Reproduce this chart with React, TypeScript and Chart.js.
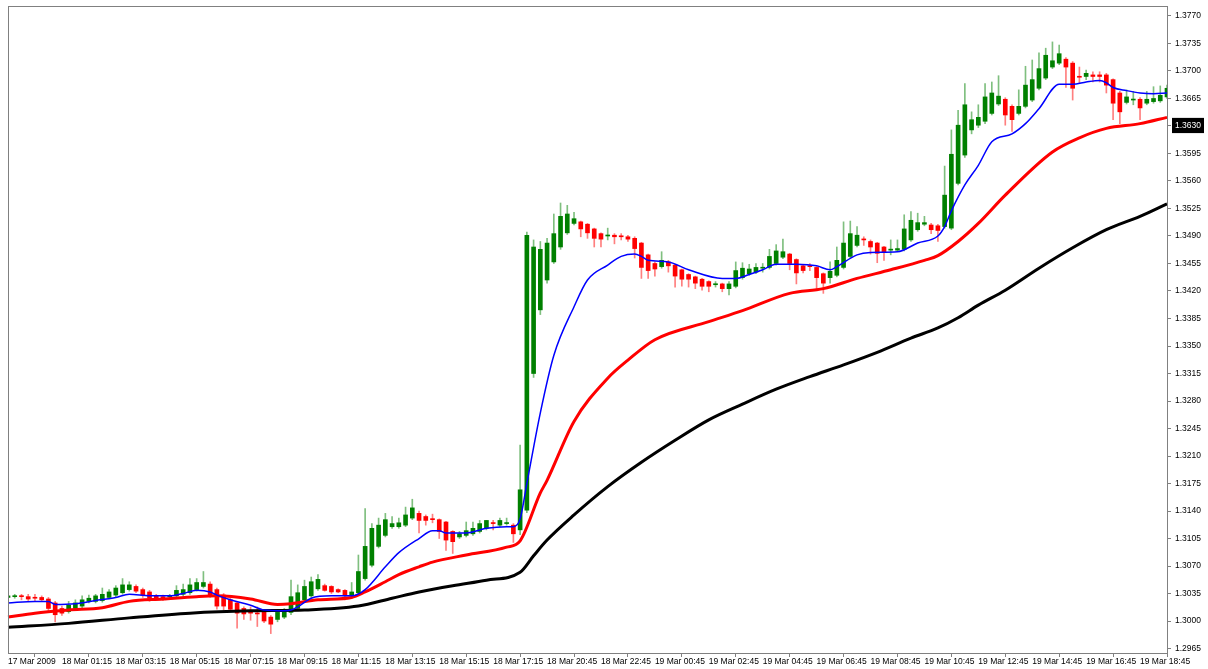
import React, { useEffect, useRef } from 'react';
import { Chart, registerables } from 'chart.js';

Chart.register(...registerables);

// Axis tick labels (one every 8 bars of 15 minutes)
const xTickLabels = [
  '17 Mar 2009', '18 Mar 01:15', '18 Mar 03:15', '18 Mar 05:15', '18 Mar 07:15', '18 Mar 09:15',
  '18 Mar 11:15', '18 Mar 13:15', '18 Mar 15:15', '18 Mar 17:15', '18 Mar 20:45', '18 Mar 22:45',
  '19 Mar 00:45', '19 Mar 02:45', '19 Mar 04:45', '19 Mar 06:45', '19 Mar 08:45', '19 Mar 10:45',
  '19 Mar 12:45', '19 Mar 14:45', '19 Mar 16:45', '19 Mar 18:45',
];
const labelEvery = 8;

const yTickValues = [
  1.2965, 1.3000, 1.3035, 1.3070, 1.3105, 1.3140, 1.3175, 1.3210, 1.3245, 1.3280, 1.3315, 1.3350,
  1.3385, 1.3420, 1.3455, 1.3490, 1.3525, 1.3560, 1.3595, 1.3630, 1.3665, 1.3700, 1.3735, 1.3770,
];
const currentPrice = 1.3630;
const yMin = 1.29593;
const yMax = 1.37827;

// Candles (OHLC)
const opens = [
  1.3030, 1.3031, 1.3032, 1.3031, 1.3030, 1.3030, 1.3028, 1.3023, 1.3016, 1.3012,
  1.3016, 1.3019, 1.3025, 1.3025, 1.3026, 1.3030, 1.3033, 1.3036, 1.3040, 1.3044,
  1.3040, 1.3037, 1.3032, 1.3031, 1.3031, 1.3032, 1.3034, 1.3036, 1.3040, 1.3044,
  1.3047, 1.3040, 1.3033, 1.3027, 1.3023, 1.3016, 1.3011, 1.3010, 1.3012, 1.3005,
  1.3002, 1.3005, 1.3011, 1.3016, 1.3027, 1.3032, 1.3041, 1.3045, 1.3044, 1.3040,
  1.3039, 1.3033, 1.3036, 1.3054, 1.3071, 1.3095, 1.3109, 1.3120, 1.3120, 1.3122,
  1.3131, 1.3137, 1.3133, 1.3130, 1.3129, 1.3126, 1.3114, 1.3107, 1.3109, 1.3111,
  1.3114, 1.3118, 1.3125, 1.3122, 1.3124, 1.3122, 1.3116, 1.3141, 1.3315, 1.3396,
  1.3434, 1.3457, 1.3476, 1.3494, 1.3506, 1.3508, 1.3505, 1.3499, 1.3493, 1.3490,
  1.3491, 1.3490, 1.3489, 1.3487, 1.3481, 1.3466, 1.3455, 1.3451, 1.3457, 1.3453,
  1.3447, 1.3441, 1.3438, 1.3435, 1.3432, 1.3428, 1.3429, 1.3423, 1.3426, 1.3437,
  1.3442, 1.3444, 1.3449, 1.3450, 1.3455, 1.3463, 1.3467, 1.3460, 1.3452, 1.3452,
  1.3450, 1.3442, 1.3437, 1.3440, 1.3450, 1.3464, 1.3478, 1.3486, 1.3483, 1.3481,
  1.3476, 1.3472, 1.3472, 1.3473, 1.3485, 1.3498, 1.3505, 1.3504, 1.3503, 1.3502,
  1.3500, 1.3557, 1.3593, 1.3625, 1.3631, 1.3636, 1.3646, 1.3658, 1.3664, 1.3655,
  1.3646, 1.3655, 1.3663, 1.3678, 1.3691, 1.3705, 1.3710, 1.3715, 1.3710, 1.3693,
  1.3693, 1.3695, 1.3695, 1.3695, 1.3689, 1.3672, 1.3660, 1.3663, 1.3664, 1.3659,
  1.3661, 1.3662, 1.3667,
];
const highs = [
  1.3034, 1.3034, 1.3034, 1.3034, 1.3034, 1.3032, 1.3030, 1.3025, 1.3019, 1.3025,
  1.3027, 1.3032, 1.3033, 1.3034, 1.3042, 1.3040, 1.3045, 1.3054, 1.3050, 1.3046,
  1.3042, 1.3039, 1.3034, 1.3033, 1.3034, 1.3045, 1.3047, 1.3054, 1.3054, 1.3063,
  1.3050, 1.3042, 1.3035, 1.3029, 1.3025, 1.3018, 1.3018, 1.3018, 1.3014, 1.3007,
  1.3012, 1.3016, 1.3052, 1.3046, 1.3052, 1.3056, 1.3059, 1.3047, 1.3045, 1.3041,
  1.3040, 1.3049, 1.3084, 1.3143, 1.3124, 1.3131, 1.3137, 1.3133, 1.3131, 1.3145,
  1.3155, 1.3140, 1.3135, 1.3136, 1.3130, 1.3127, 1.3115, 1.3114, 1.3126, 1.3126,
  1.3128, 1.3128, 1.3128, 1.3131, 1.3131, 1.3124, 1.3224, 1.3495, 1.3485, 1.3483,
  1.3487, 1.3518, 1.3532, 1.3529, 1.3520, 1.3509, 1.3506, 1.3500, 1.3494, 1.3500,
  1.3493, 1.3493, 1.3491, 1.3489, 1.3482, 1.3467, 1.3457, 1.3470, 1.3459, 1.3454,
  1.3448, 1.3442, 1.3439, 1.3436, 1.3433, 1.3432, 1.3430, 1.3432, 1.3457, 1.3456,
  1.3454, 1.3455, 1.3455, 1.3473, 1.3479, 1.3486, 1.3468, 1.3461, 1.3453, 1.3455,
  1.3451, 1.3443, 1.3457, 1.3476, 1.3508, 1.3509, 1.3502, 1.3489, 1.3485, 1.3482,
  1.3477, 1.3485, 1.3485, 1.3517, 1.3521, 1.3519, 1.3515, 1.3506, 1.3505, 1.3579,
  1.3625, 1.3650, 1.3684, 1.3648, 1.3657, 1.3684, 1.3686, 1.3694, 1.3666, 1.3657,
  1.3676, 1.3706, 1.3714, 1.3723, 1.3729, 1.3737, 1.3733, 1.3717, 1.3712, 1.3705,
  1.3701, 1.3699, 1.3699, 1.3697, 1.3690, 1.3674, 1.3676, 1.3674, 1.3666, 1.3674,
  1.3680, 1.3681, 1.3682,
];
const lows = [
  1.3028, 1.3029, 1.3027, 1.3026, 1.3025, 1.3025, 1.3012, 1.2999, 1.3007, 1.3010,
  1.3014, 1.3017, 1.3023, 1.3023, 1.3024, 1.3028, 1.3031, 1.3034, 1.3038, 1.3036,
  1.3030, 1.3025, 1.3027, 1.3026, 1.3028, 1.3030, 1.3032, 1.3034, 1.3038, 1.3042,
  1.3030, 1.3015, 1.3014, 1.3012, 1.2991, 1.3002, 1.3001, 1.2993, 1.2998, 1.2984,
  1.2999, 1.3003, 1.3008, 1.3014, 1.3025, 1.3030, 1.3039, 1.3038, 1.3035, 1.3036,
  1.3027, 1.3029, 1.3034, 1.3052, 1.3069, 1.3093, 1.3107, 1.3118, 1.3118, 1.3120,
  1.3129, 1.3112, 1.3122, 1.3125, 1.3105, 1.3090, 1.3086, 1.3105, 1.3107, 1.3109,
  1.3112, 1.3116, 1.3116, 1.3120, 1.3122, 1.3100, 1.3110, 1.3138, 1.3310, 1.3390,
  1.3430, 1.3455, 1.3473, 1.3492, 1.3504, 1.3489, 1.3487, 1.3476, 1.3476, 1.3485,
  1.3480, 1.3485, 1.3483, 1.3462, 1.3436, 1.3436, 1.3439, 1.3449, 1.3444, 1.3425,
  1.3426, 1.3425, 1.3423, 1.3421, 1.3419, 1.3425, 1.3419, 1.3415, 1.3424, 1.3435,
  1.3440, 1.3442, 1.3444, 1.3448, 1.3453, 1.3461, 1.3447, 1.3429, 1.3443, 1.3446,
  1.3423, 1.3417, 1.3430, 1.3438, 1.3448, 1.3462, 1.3476, 1.3478, 1.3467, 1.3456,
  1.3459, 1.3466, 1.3470, 1.3471, 1.3483, 1.3496, 1.3503, 1.3493, 1.3483, 1.3500,
  1.3498, 1.3555, 1.3590, 1.3620, 1.3628, 1.3633, 1.3644, 1.3656, 1.3631, 1.3623,
  1.3644, 1.3653, 1.3661, 1.3676, 1.3689, 1.3703, 1.3708, 1.3679, 1.3663, 1.3684,
  1.3689, 1.3686, 1.3686, 1.3672, 1.3638, 1.3633, 1.3658, 1.3657, 1.3638, 1.3657,
  1.3659, 1.3660, 1.3665,
];
const closes = [
  1.3032, 1.3032, 1.3031, 1.3028, 1.3029, 1.3027, 1.3016, 1.3008, 1.3010, 1.3020,
  1.3023, 1.3027, 1.3029, 1.3032, 1.3034, 1.3037, 1.3042, 1.3046, 1.3046, 1.3038,
  1.3033, 1.3029, 1.3029, 1.3029, 1.3032, 1.3039, 1.3040, 1.3046, 1.3049, 1.3049,
  1.3033, 1.3019, 1.3019, 1.3015, 1.3010, 1.3009, 1.3010, 1.3009, 1.3000, 1.2996,
  1.3011, 1.3013, 1.3031, 1.3036, 1.3044, 1.3050, 1.3053, 1.3039, 1.3037, 1.3037,
  1.3032, 1.3037, 1.3063, 1.3095, 1.3118, 1.3122, 1.3129, 1.3124, 1.3125, 1.3135,
  1.3144, 1.3128, 1.3128, 1.3129, 1.3114, 1.3103, 1.3101, 1.3111, 1.3115, 1.3118,
  1.3124, 1.3128, 1.3124, 1.3128, 1.3125, 1.3111, 1.3167, 1.3491, 1.3476, 1.3473,
  1.3481, 1.3493, 1.3515, 1.3518, 1.3512, 1.3499, 1.3494, 1.3487, 1.3486, 1.3491,
  1.3489, 1.3489, 1.3486, 1.3474, 1.3450, 1.3446, 1.3448, 1.3459, 1.3452, 1.3439,
  1.3435, 1.3435, 1.3430, 1.3426, 1.3426, 1.3429, 1.3423, 1.3429, 1.3446, 1.3449,
  1.3448, 1.3450, 1.3450, 1.3464, 1.3471, 1.3470, 1.3455, 1.3443, 1.3446, 1.3451,
  1.3437, 1.3430, 1.3445, 1.3459, 1.3481, 1.3493, 1.3491, 1.3485, 1.3476, 1.3468,
  1.3470, 1.3473, 1.3474, 1.3499, 1.3510, 1.3507, 1.3507, 1.3498, 1.3497, 1.3542,
  1.3594, 1.3631, 1.3657, 1.3638, 1.3641, 1.3667, 1.3672, 1.3668, 1.3644, 1.3638,
  1.3655, 1.3682, 1.3689, 1.3703, 1.3720, 1.3713, 1.3722, 1.3705, 1.3678, 1.3692,
  1.3697, 1.3693, 1.3693, 1.3682, 1.3659, 1.3648, 1.3667, 1.3664, 1.3653, 1.3664,
  1.3665, 1.3669, 1.3678,
];

// Moving averages: [bar index, value]
const blueMA: [number, number][] = [
  [0, 1.3023], [4, 1.3025], [6, 1.3025], [7, 1.3021], [10, 1.3022], [13, 1.3026], [16, 1.3030],
  [18, 1.3034], [21, 1.3032], [24, 1.3032], [26, 1.3035], [28, 1.3039], [30, 1.3037], [31, 1.3033],
  [33, 1.3027], [36, 1.3020], [38, 1.3014], [41, 1.3013], [42, 1.3014], [43, 1.3018], [45, 1.3029],
  [48, 1.3032], [51, 1.3032], [53, 1.3040], [56, 1.3069], [58, 1.3087], [61, 1.3105], [63, 1.3115],
  [64, 1.3115], [65, 1.3112], [68, 1.3112], [71, 1.3118], [74, 1.3120], [75, 1.3120], [76, 1.3130],
  [77, 1.3175], [79, 1.3265], [81, 1.3338], [84, 1.3400], [86, 1.3434], [89, 1.3453], [91, 1.3464],
  [93, 1.3467], [94, 1.3464], [95, 1.3459], [98, 1.3457], [101, 1.3447], [106, 1.3436], [108, 1.3436],
  [110, 1.3441], [112, 1.3447], [114, 1.3454], [117, 1.3454], [120, 1.3452], [122, 1.3447], [123, 1.3451],
  [126, 1.3466], [128, 1.3469], [132, 1.3470], [135, 1.3481], [138, 1.3490], [139, 1.3502], [140, 1.3522],
  [142, 1.3555], [144, 1.3580], [146, 1.3610], [149, 1.3620], [151, 1.3633], [153, 1.3652], [156, 1.3683],
  [158, 1.3683], [160, 1.3686], [162, 1.3688], [163, 1.3685], [164, 1.3679], [166, 1.3675], [168, 1.3672],
  [170, 1.3671], [172, 1.3672],
];
const redMA: [number, number][] = [
  [0, 1.3005], [4, 1.3010], [9, 1.3014], [14, 1.3017], [18, 1.3025], [23, 1.3028], [28, 1.3031],
  [31, 1.3032], [36, 1.3028], [40, 1.3021], [42, 1.3022], [46, 1.3027], [51, 1.3030], [53, 1.3037],
  [56, 1.3050], [58, 1.3059], [61, 1.3069], [63, 1.3075], [68, 1.3084], [74, 1.3094], [76, 1.3102],
  [79, 1.3163], [80, 1.3179], [84, 1.3254], [89, 1.3309], [92, 1.3332], [96, 1.3358], [104, 1.3381],
  [109, 1.3395], [116, 1.3417], [121, 1.3423], [126, 1.3436], [131, 1.3447], [136, 1.3459], [138, 1.3465],
  [141, 1.3483], [144, 1.3506], [148, 1.3542], [155, 1.3597], [159, 1.3615], [163, 1.3627], [168, 1.3633],
  [172, 1.3641],
];
const blackMA: [number, number][] = [
  [0, 1.2992], [9, 1.2997], [18, 1.3004], [27, 1.3010], [36, 1.3013], [44, 1.3014], [52, 1.3019],
  [57, 1.3029], [61, 1.3037], [66, 1.3045], [71, 1.3052], [76, 1.3062], [78, 1.3083], [80, 1.3103],
  [84, 1.3135], [89, 1.3171], [94, 1.3202], [99, 1.3230], [104, 1.3256], [109, 1.3276], [114, 1.3295],
  [119, 1.3311], [124, 1.3326], [129, 1.3342], [134, 1.3360], [138, 1.3373], [141, 1.3386], [144, 1.3402],
  [148, 1.3421], [153, 1.3449], [158, 1.3475], [163, 1.3498], [168, 1.3515], [172, 1.3531],
];

const FONT = { family: '"Liberation Sans", Arial, sans-serif', size: 8.5 };
const FRAME = '#808080';

const framePlugin = {
  id: 'frame',
  afterDatasetsDraw(chart: any) {
    const { ctx, chartArea } = chart;
    const l = Math.round(chartArea.left) + 0.5;
    const t = Math.round(chartArea.top) + 0.5;
    const r = Math.round(chartArea.right) + 0.5;
    const b = Math.round(chartArea.bottom) + 0.5;
    ctx.save();
    ctx.strokeStyle = FRAME;
    ctx.lineWidth = 1;
    ctx.strokeRect(l, t, r - l, b - t);
    ctx.restore();
  },
};

export default function App() {
  const ref = useRef<HTMLCanvasElement>(null);
  useEffect(() => {
    if (!ref.current) return;
    const n = opens.length;
    const labels = opens.map((_, i) => (i % labelEvery === 0 ? xTickLabels[i / labelEvery] ?? '' : ''));
    const toSeries = (pts: [number, number][]) => {
      const arr: (number | null)[] = new Array(n).fill(null);
      pts.forEach(([i, v]) => { arr[i] = v; });
      return arr;
    };
    const bull = opens.map((o, i) => closes[i] >= o);
    const isCurrent = (v: number) => Math.abs(v - currentPrice) < 1e-6;

    const chart = new Chart(ref.current, {
      type: 'bar',
      data: {
        labels,
        datasets: [
          {
            type: 'line', data: toSeries(blueMA), borderColor: '#0000ff', borderWidth: 1.5,
            pointRadius: 0, spanGaps: true, cubicInterpolationMode: 'monotone', order: 0,
          } as any,
          {
            type: 'line', data: toSeries(redMA), borderColor: '#ff0000', borderWidth: 3,
            pointRadius: 0, spanGaps: true, cubicInterpolationMode: 'monotone', order: 1,
          } as any,
          {
            type: 'line', data: toSeries(blackMA), borderColor: '#000000', borderWidth: 3,
            pointRadius: 0, spanGaps: true, cubicInterpolationMode: 'monotone', order: 2,
          } as any,
          {
            type: 'bar', data: opens.map((o, i) => [o, closes[i]]),
            backgroundColor: bull.map((b) => (b ? '#008000' : '#ff0000')),
            barThickness: 4, minBarLength: 1, grouped: false, order: 3,
          } as any,
          {
            type: 'bar', data: lows.map((l, i) => [l, highs[i]]),
            backgroundColor: bull.map((b) => (b ? '#7fbf7f' : '#ff7f7f')),
            barThickness: 1, grouped: false, order: 4,
          } as any,
        ],
      },
      options: {
        animation: false,
        responsive: true,
        maintainAspectRatio: false,
        layout: { padding: { left: 8, top: 6, right: 0, bottom: 0 } },
        plugins: { legend: { display: false }, tooltip: { enabled: false } },
        scales: {
          x: {
            type: 'category',
            offset: false,
            grid: { display: true, drawOnChartArea: false, drawTicks: true, tickLength: 4, color: FRAME },
            border: { display: false },
            ticks: {
              autoSkip: false, maxRotation: 0, minRotation: 0, align: 'start',
              padding: 0, color: '#000', font: FONT,
            },
            afterBuildTicks: (scale: any) => {
              scale.ticks = scale.ticks.filter((t: any) => t.value % labelEvery === 0);
            },
            afterFit: (scale: any) => { scale.height = 16; scale.paddingLeft = 0; },
          },
          y: {
            type: 'linear',
            position: 'right',
            min: yMin,
            max: yMax,
            grid: { display: true, drawOnChartArea: false, drawTicks: true, tickLength: 4, color: FRAME },
            border: { display: false },
            ticks: {
              padding: 4,
              font: FONT,
              color: (ctx: any) => (ctx.tick && isCurrent(ctx.tick.value) ? '#ffffff' : '#000000'),
              showLabelBackdrop: (ctx: any) => !!(ctx.tick && isCurrent(ctx.tick.value)),
              backdropColor: '#000000',
              backdropPadding: { left: 3, right: 3, top: 3, bottom: 2 },
              callback: (v: any) => Number(v).toFixed(4),
            },
            afterBuildTicks: (scale: any) => {
              scale.ticks = yTickValues.map((v) => ({ value: v }));
            },
            afterFit: (scale: any) => {
              scale.width = 41;
              scale.paddingTop = 0;
              scale.paddingBottom = 0;
            },
          },
        },
      } as any,
      plugins: [framePlugin],
    });
    return () => chart.destroy();
  }, []);

  return (
    <div style={{ position: 'absolute', left: 0, top: 0, width: 1208, height: 669, background: '#fff' }}>
      <canvas ref={ref} />
    </div>
  );
}
